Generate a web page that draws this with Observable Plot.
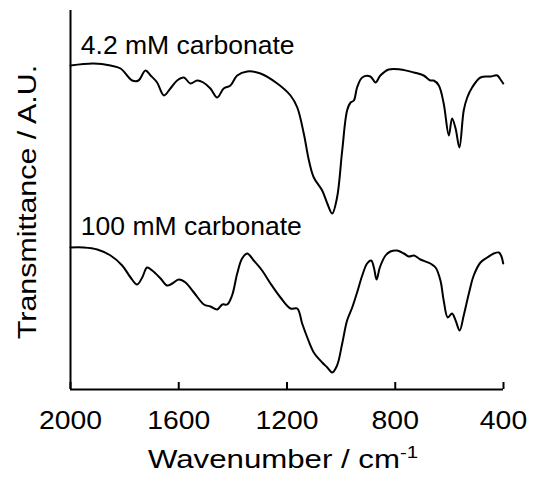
<!DOCTYPE html>
<html><head><meta charset="utf-8">
<script src="https://cdn.jsdelivr.net/npm/d3@7"></script>
<script src="https://cdn.jsdelivr.net/npm/@observablehq/plot@0.6"></script>
<style>body{margin:0;background:#fff}</style>
</head><body><div id="chart"></div>
<script>
const xTicks = [2000, 1600, 1200, 800, 400];
const xTitle = "Wavenumber / cm-1";
const yTitle = "Transmittance / A.U.";
const seriesLabels = ["4.2 mM carbonate", "100 mM carbonate"];
const labelWn = [1962, 1962];
const labelT = [33.6, 15.5];

// 4.2 mM carbonate spectrum (wavenumber, transmittance A.U.)
const lowWn = [2000,1915,1852,1815,1772,1749,1723,1704,1680,1655,1631,1606,1581,1557,1532,1509,1483,1458,1434,1409,1384,1347,1298,1236,1187,1162,1138,1119,1101,1070,1051,1033,1015,996,978,965,953,941,922,892,873,855,824,781,731,695,670,658,639,621,602,590,577,563,547,534,516,485,448,423,411,401];
const lowT = [32.4,32.6,32.4,32.1,30.9,30.9,31.9,31.4,30.7,29.4,30.1,30.9,31.2,30.6,30.9,30.7,30.1,29.2,30.1,30.4,31.4,31.8,31.6,30.6,29.4,28.2,25.6,22.9,21.2,19.9,18.6,17.6,19.2,23.9,27.9,28.7,28.9,30.2,31.2,31.3,30.7,31.4,32.0,32.0,31.7,31.4,30.9,30.9,30.4,28.6,25.4,27.1,26.1,24.2,27.9,29.2,30.2,31.2,31.3,31.4,31.0,30.6];

// 100 mM carbonate spectrum
const highWn = [2000,1951,1901,1852,1809,1778,1754,1735,1717,1698,1667,1643,1624,1600,1575,1544,1507,1483,1458,1439,1421,1403,1384,1366,1347,1323,1292,1261,1224,1187,1162,1144,1125,1101,1070,1051,1033,1015,996,978,959,941,922,904,889,879,869,857,836,818,793,768,750,731,707,670,651,633,621,606,590,577,562,547,528,510,485,460,436,417,409,401];
const highT = [14.2,14.2,14.0,13.4,12.4,11.2,10.5,11.2,12.2,11.9,11.1,10.4,10.6,11.0,10.7,9.7,8.5,8.3,8.0,8.5,8.5,9.4,11.6,13.1,13.6,12.9,11.9,10.6,9.2,8.1,8.1,6.6,5.2,3.7,2.7,2.2,1.7,2.4,4.6,6.9,8.2,9.7,11.4,12.6,12.9,12.2,11.0,12.2,13.4,13.8,13.9,13.6,13.3,13.4,13.0,12.6,12.2,10.9,8.9,7.2,7.6,6.9,5.9,7.4,9.6,11.4,12.7,13.2,13.6,13.7,13.4,12.6];

const low = lowWn.map((w, i) => ({wn: w, t: lowT[i]}));
const high = highWn.map((w, i) => ({wn: w, t: highT[i]}));

const font = "'Liberation Sans', Arial, Helvetica, sans-serif";
const plot = Plot.plot({
  width: 533, height: 490,
  marginLeft: 70, marginRight: 30, marginTop: 10, marginBottom: 101,
  style: {fontFamily: font, color: "#000", background: "#fff", overflow: "visible"},
  x: {domain: [2000, 400]},
  y: {domain: [0, 37.9], axis: null},
  marks: [
    Plot.ruleX([2000], {stroke: "#000", strokeWidth: 2}),
    Plot.ruleY([0], {stroke: "#000", strokeWidth: 2}),
    Plot.axisX({ticks: xTicks, tickSize: -7, tickPadding: 28, tickFormat: d => String(d), fontSize: 26, label: null, strokeWidth: 2}),
    Plot.line(low, {x: "wn", y: "t", stroke: "#000", strokeWidth: 2, curve: "catmull-rom"}),
    Plot.line(high, {x: "wn", y: "t", stroke: "#000", strokeWidth: 2, curve: "catmull-rom"}),
    Plot.text(seriesLabels, {x: (d, i) => labelWn[i], y: (d, i) => labelT[i], text: d => d, textAnchor: "start", lineAnchor: "bottom", fontSize: 26}),
    Plot.text([xTitle], {frameAnchor: "bottom", dy: 60, dx: -4, textAnchor: "middle", lineAnchor: "top", fontSize: 26}),
    Plot.text([yTitle], {frameAnchor: "left", rotate: -90, dx: -35, dy: 2, textAnchor: "middle", lineAnchor: "bottom", fontSize: 26})
  ]
});
document.getElementById("chart").append(plot);

const stretch = (el, f) => {
  const w = el.getComputedTextLength();
  el.setAttribute("textLength", (w * f).toFixed(1));
  el.setAttribute("lengthAdjust", "spacingAndGlyphs");
};
plot.querySelectorAll("text").forEach(t => {
  const s = t.textContent;
  if (s === xTitle) {
    t.textContent = "Wavenumber / cm";
    const ts = document.createElementNS("http://www.w3.org/2000/svg", "tspan");
    ts.setAttribute("dy", "-10");
    ts.setAttribute("font-size", "17");
    ts.textContent = "-1";
    t.append(ts);
    stretch(t, 1.2);
  } else if (s === yTitle) stretch(t, 1.17);
  else if (xTicks.map(String).includes(s)) stretch(t, 1.09);
  else if (seriesLabels.includes(s)) stretch(t, 1.02);
});
</script>
</body></html>
